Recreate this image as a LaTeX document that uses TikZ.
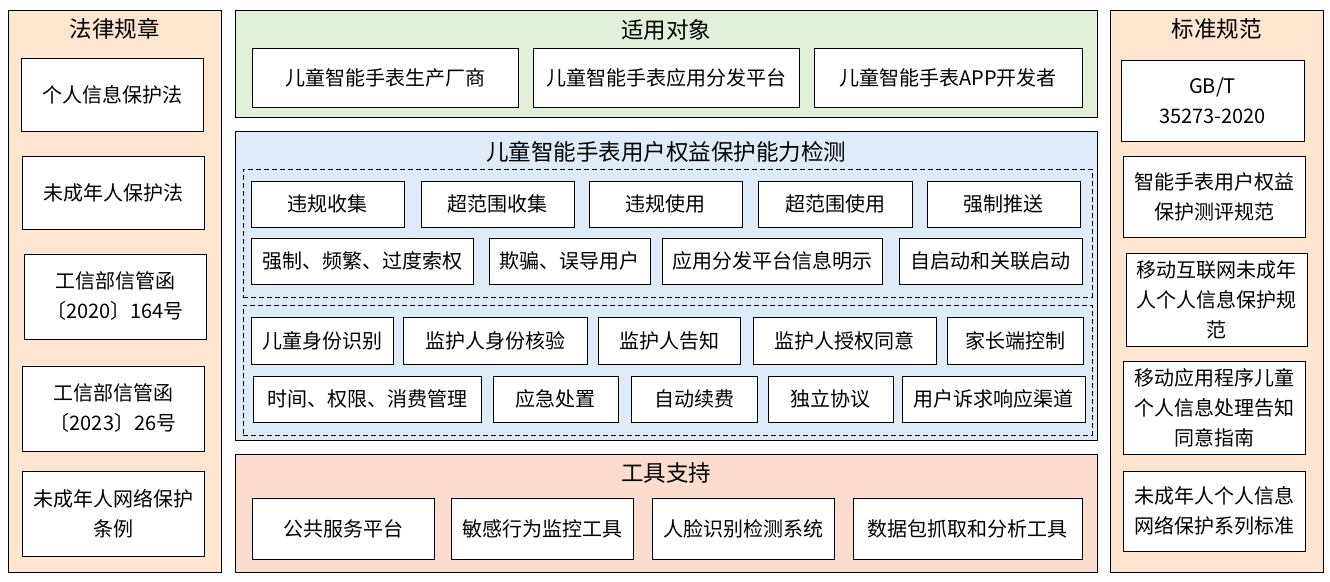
\documentclass[tikz,border=0pt]{standalone}
\usepackage{fontspec}
\setmainfont{Noto Sans CJK SC}
\usepackage[svgnames]{xcolor}
\definecolor{sideBg}{HTML}{FDE5CF}
\definecolor{objBg}{HTML}{E2F0D9}
\definecolor{testBg}{HTML}{DEEBF8}
\definecolor{toolBg}{HTML}{FBDCCE}

\tikzset{
  panel/.style={draw, line width=1pt, inner sep=0pt},
  group/.style={draw, line width=0.9pt, dash pattern=on 5pt off 3pt, inner sep=0pt},
  item/.style={draw, fill=white, line width=1pt, inner sep=0pt, align=center,
    font=\fontsize{20}{30}\selectfont},
  heading/.style={font=\fontsize{22.5}{27}\selectfont},
}

\begin{document}
\begin{tikzpicture}[x=1pt, y=-1pt]
\useasboundingbox (0,0) rectangle (1330,581);

% side panels
\node[panel, fill=sideBg, minimum width=213pt, minimum height=562pt] (lawPanel) at (114.5,291) {};
\node[heading] (lawTitle) at (114.5,29) {法律规章};
\node[panel, fill=sideBg, minimum width=213pt, minimum height=562pt] (stdPanel) at (1216.5,291) {};
\node[heading] (stdTitle) at (1216.5,29) {标准规范};

\foreach[count=\k] \xa/\ya/\xb/\yb/\txt in {
  21/58/203/131/{个人信息保护法},
  22/156/204/229/{未成年人保护法},
  24/254/206/339/{工信部信管函\\〔2020〕164号},
  22/366/204/451/{工信部信管函\\〔2023〕26号},
  22/471/204/556/{未成年人网络保护\\条例}} {
  \node[item, minimum width={(\xb-\xa)*1pt}, minimum height={(\yb-\ya)*1pt}]
    (law\k) at ({(\xa+\xb)/2},{(\ya+\yb)/2}) {\txt};
}

\foreach[count=\k] \xa/\ya/\xb/\yb/\txt in {
  1121/60/1304/141/{GB/T\\35273-2020},
  1123/156/1305/237/{智能手表用户权益\\保护测评规范},
  1126/253/1307/346/{移动互联网未成年\\人个人信息保护规\\范},
  1123/361/1305/454/{移动应用程序儿童\\个人信息处理告知\\同意指南},
  1123/471/1305/551/{未成年人个人信息\\网络保护系列标准}} {
  \node[item, minimum width={(\xb-\xa)*1pt}, minimum height={(\yb-\ya)*1pt}]
    (std\k) at ({(\xa+\xb)/2},{(\ya+\yb)/2}) {\txt};
}

% applicable objects
\node[panel, fill=objBg, minimum width=862pt, minimum height=107pt] (objPanel) at (666,63.5) {};
\node[heading] (objTitle) at (666,30) {适用对象};
\foreach[count=\k] \xa/\xb/\txt in {
  252/518/{儿童智能手表生产厂商},
  533/799/{儿童智能手表应用分发平台},
  814/1082/{儿童智能手表APP开发者}} {
  \node[item, minimum width={(\xb-\xa)*1pt}, minimum height=59pt]
    (obj\k) at ({(\xa+\xb)/2},77.5) {\txt};
}

% test items
\node[panel, fill=testBg, minimum width=862pt, minimum height=309pt] (testPanel) at (666,285.5) {};
\node[heading] (testTitle) at (666,152) {儿童智能手表用户权益保护能力检测};
\node[group, minimum width=849pt, minimum height=128pt] (groupA) at (667.5,233) {};
\node[group, minimum width=849pt, minimum height=130pt] (groupB) at (667.5,370) {};

\foreach[count=\k] \xa/\xb/\txt in {
  251/404/{违规收集},
  421/574/{超范围收集},
  589/742/{违规使用},
  758/912/{超范围使用},
  927/1080/{强制推送}} {
  \node[item, minimum width={(\xb-\xa)*1pt}, minimum height=46pt]
    (rowA\k) at ({(\xa+\xb)/2},204) {\txt};
}
\foreach[count=\k] \xa/\xb/\txt in {
  251/473/{强制、频繁、过度索权},
  489/650/{欺骗、误导用户},
  662/882/{应用分发平台信息明示},
  899/1082/{自启动和关联启动}} {
  \node[item, minimum width={(\xb-\xa)*1pt}, minimum height=46pt]
    (rowB\k) at ({(\xa+\xb)/2},261) {\txt};
}
\foreach[count=\k] \xa/\xb/\txt in {
  251/393/{儿童身份识别},
  403/587/{监护人身份核验},
  598/740/{监护人告知},
  753/936/{监护人授权同意},
  947/1083/{家长端控制}} {
  \node[item, minimum width={(\xb-\xa)*1pt}, minimum height=47pt]
    (rowC\k) at ({(\xa+\xb)/2},340.5) {\txt};
}
\foreach[count=\k] \xa/\xb/\txt in {
  253/481/{时间、权限、消费管理},
  493/618/{应急处置},
  631/757/{自动续费},
  768/893/{独立协议},
  902/1085/{用户诉求响应渠道}} {
  \node[item, minimum width={(\xb-\xa)*1pt}, minimum height=46pt]
    (rowD\k) at ({(\xa+\xb)/2},399) {\txt};
}

% tool support
\node[panel, fill=toolBg, minimum width=862pt, minimum height=118pt] (toolPanel) at (666,513) {};
\node[heading] (toolTitle) at (666,473) {工具支持};
\foreach[count=\k] \xa/\xb/\txt in {
  252/434/{公共服务平台},
  451/633/{敏感行为监控工具},
  652/834/{人脸识别检测系统},
  853/1082/{数据包抓取和分析工具}} {
  \node[item, minimum width={(\xb-\xa)*1pt}, minimum height=61pt]
    (tool\k) at ({(\xa+\xb)/2},528.5) {\txt};
}

\end{tikzpicture}
\end{document}
